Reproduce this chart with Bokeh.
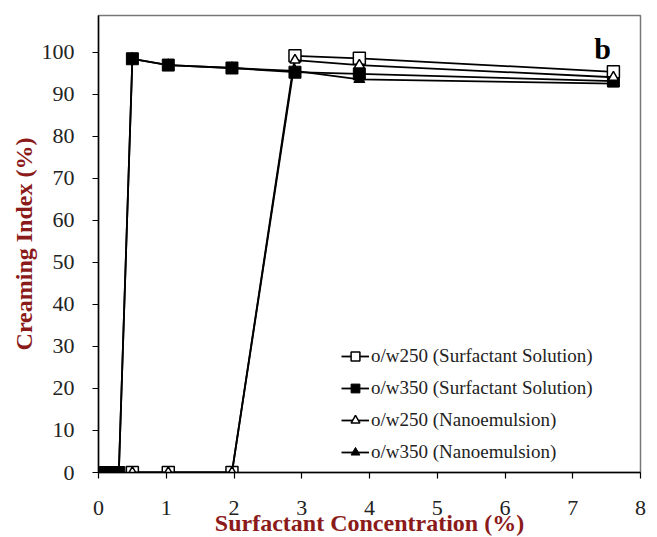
from bokeh.plotting import figure
from bokeh.models import Range1d, Legend, LegendItem, Label, FixedTicker
from bokeh.embed import file_html
from bokeh.resources import INLINE

# ---- data ----
x_350 = [0.1, 0.2, 0.3, 0.5, 1.03, 1.97, 2.9, 3.85, 7.6]
y_s350 = [0, 0, 0, 98.5, 97.0, 96.3, 95.3, 94.9, 93.2]
y_n350 = [0, 0, 0, 98.5, 97.0, 96.3, 95.6, 93.6, 92.6]
x_250 = [0.5, 1.03, 1.97, 2.9, 3.85, 7.6]
y_s250 = [0, 0, 0, 99.2, 98.6, 95.4]
y_n250 = [0, 0, 0, 98.2, 97.0, 94.1]
names = ["o/w250 (Surfactant Solution)", "o/w350 (Surfactant Solution)",
         "o/w250 (Nanoemulsion)", "o/w350 (Nanoemulsion)"]
x_ticks = [0, 1, 2, 3, 4, 5, 6, 7, 8]
y_ticks = [0, 10, 20, 30, 40, 50, 60, 70, 80, 90, 100]

RED = "#8b1a1a"
FONT = "Liberation Serif"

p = figure(frame_width=542, frame_height=457, output_backend="svg", toolbar_location=None,
           x_range=Range1d(0, 8), y_range=Range1d(0, 108.8),
           min_border_left=98, min_border_right=10, min_border_top=15, min_border_bottom=50)
p.grid.visible = False
p.outline_line_color = "#777777"
p.outline_line_width = 1.5
p.background_fill_color = "white"
p.border_fill_color = "white"

for ax in (p.xaxis[0], p.yaxis[0]):
    ax.axis_line_color = "black"
    ax.axis_line_width = 1.5
    ax.major_tick_line_color = "black"
    ax.major_tick_line_width = 1.2
    ax.major_tick_in = 0
    ax.major_tick_out = 6
    ax.minor_tick_line_color = None
    ax.major_label_text_font = FONT
    ax.major_label_text_font_size = "22px"
    ax.major_label_text_color = "#222222"
    ax.axis_label_text_font = FONT
    ax.axis_label_text_font_style = "bold"
    ax.axis_label_text_color = RED
    ax.axis_label_text_font_size = "24px"

p.xaxis.ticker = FixedTicker(ticks=x_ticks)
p.yaxis.ticker = FixedTicker(ticks=y_ticks)
p.xaxis.axis_label = "Surfactant Concentration (%)"
p.yaxis.axis_label = "Creaming Index (%)"
p.xaxis.major_label_standoff = 22
p.xaxis.axis_label_standoff = -8
p.yaxis.major_label_standoff = 18
p.yaxis.axis_label_standoff = 2

LW = 1.8
# draw order: filled triangles, filled squares, open squares, open triangles
l4 = p.line(x_350, y_n350, line_color="black", line_width=LW)
m4 = p.scatter(x_350, y_n350, marker="triangle", size=11, fill_color="black", line_color="black")
l2 = p.line(x_350, y_s350, line_color="black", line_width=LW)
m2 = p.scatter(x_350, y_s350, marker="square", size=12, fill_color="black", line_color="black")
l1 = p.line(x_250, y_s250, line_color="black", line_width=LW)
m1 = p.scatter(x_250, y_s250, marker="square", size=12, fill_color="white", line_color="black", line_width=1.5)
l3 = p.line(x_250, y_n250, line_color="black", line_width=LW)
m3 = p.scatter(x_250, y_n250, marker="triangle", size=10, fill_color="white", line_color="black", line_width=1.5)

legend = Legend(items=[
    LegendItem(label=names[0], renderers=[l1, m1]),
    LegendItem(label=names[1], renderers=[l2, m2]),
    LegendItem(label=names[2], renderers=[l3, m3]),
    LegendItem(label=names[3], renderers=[l4, m4]),
], location=(243, 9))
legend.label_text_font = FONT
legend.label_text_font_size = "19px"
legend.label_text_color = "#222222"
legend.border_line_color = None
legend.background_fill_alpha = 0
legend.glyph_width = 28
legend.glyph_height = 22
legend.label_height = 22
legend.spacing = 10
legend.padding = 0
legend.margin = 0
legend.label_standoff = 2
p.add_layout(legend, "center")

p.add_layout(Label(x=7.44, y=101.0, text="b", text_font=FONT, text_font_style="bold",
                   text_font_size="30px", text_color="black",
                   text_align="center", text_baseline="middle"))

open("out.html", "w").write(file_html(p, INLINE))
